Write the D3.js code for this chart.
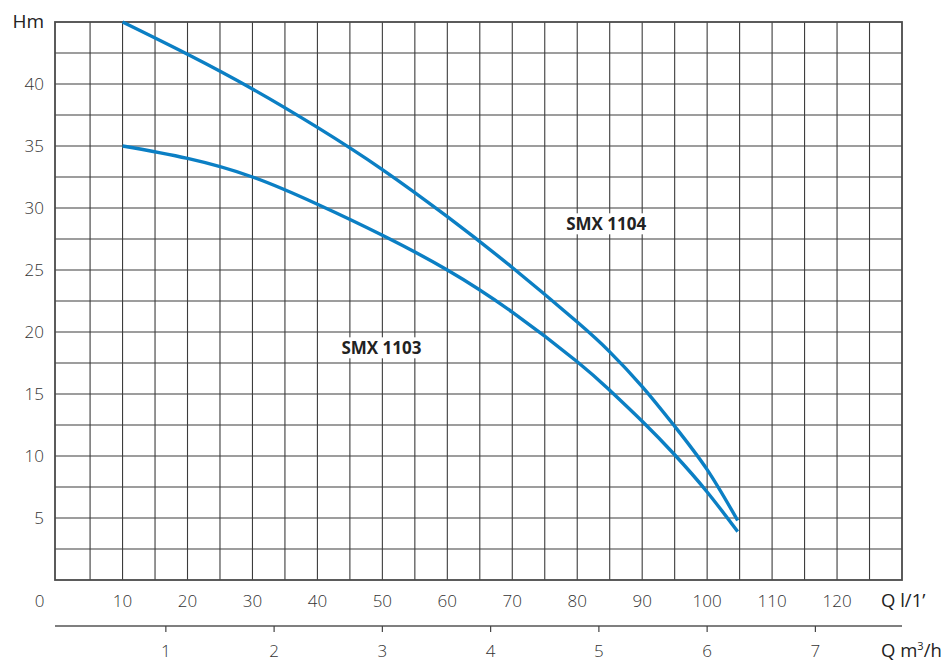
<!DOCTYPE html>
<html><head><meta charset="utf-8">
<script src="https://cdn.jsdelivr.net/npm/d3@7/dist/d3.min.js"></script>
<style>body{margin:0;background:#fff} svg{display:block}</style>
</head><body><svg id="c" width="949" height="662"></svg>
<script>
// ---- data ----
const flowTicks = [0,10,20,30,40,50,60,70,80,90,100,110,120];   // Q l/1'
const m3hTicks = [1,2,3,4,5,6,7];                                 // Q m3/h
const headTicks = [5,10,15,20,25,30,35,40];                       // Hm
const seriesNames = ["SMX 1104","SMX 1103"];
const smx1104Q = [10,20,30,40,50,60,70,80,85,90,95,100,104.7];
const smx1104H = [45,42.4,39.6,36.5,33.1,29.3,25.2,20.8,18.4,15.6,12.4,8.9,4.8];
const smx1103Q = [10,20,30,40,50,60,70,80,85,90,95,100,104.7];
const smx1103H = [35,34.0,32.5,30.3,27.8,25.0,21.6,17.6,15.3,12.8,10.1,7.1,3.9];
const labelAt = [[78.3,28.2],[43.7,18.2]]; // label anchors in data units (Q, H)

// ---- layout ----
const svg=d3.select("#c");
const x=d3.scaleLinear().domain([-0.4,130]).range([55,902]);
const y=d3.scaleLinear().domain([0,45]).range([580,22]);
const fontNum="'Open Sans', 'DejaVu Sans', sans-serif";
const gridColor="#3c3c3c";

// grid
const g=svg.append("g");
g.selectAll("line.v").data(d3.range(5,130,5)).join("line")
  .attr("x1",d=>x(d)).attr("x2",d=>x(d)).attr("y1",y(0)).attr("y2",y(45))
  .attr("stroke",gridColor).attr("stroke-width",1.1);
g.selectAll("line.h").data(d3.range(2.5,45,2.5)).join("line")
  .attr("x1",x.range()[0]).attr("x2",x.range()[1]).attr("y1",d=>y(d)).attr("y2",d=>y(d))
  .attr("stroke",gridColor).attr("stroke-width",1.1);
// frame
g.append("rect").attr("x",x.range()[0]).attr("y",y(45))
  .attr("width",x.range()[1]-x.range()[0]).attr("height",y(0)-y(45))
  .attr("fill","none").attr("stroke","#4a4a4a").attr("stroke-width",1.8);

// curves
const line=d3.line().x(d=>x(d[0])).y(d=>y(d[1])).curve(d3.curveNatural);
const curves=[d3.zip(smx1104Q,smx1104H), d3.zip(smx1103Q,smx1103H)];
svg.append("g").selectAll("path").data(curves).join("path")
  .attr("d",line).attr("fill","none").attr("stroke","#0b7fc4")
  .attr("stroke-width",3.4).attr("stroke-linecap","butt");

// series labels with white background
seriesNames.forEach((name,i)=>{
  const lg=svg.append("g");
  const t=lg.append("text").attr("x",x(labelAt[i][0])).attr("y",y(labelAt[i][1]))
    .attr("font-family",fontNum).attr("font-weight",700).attr("font-size",17)
    .attr("fill","#222").text(name);
  const b=t.node().getBBox();
  lg.insert("rect","text").attr("x",b.x-4).attr("y",b.y+1).attr("width",b.width+8)
    .attr("height",b.height-2).attr("fill","#fff");
});

// y axis labels
svg.append("g").selectAll("text").data(headTicks).join("text")
  .attr("x",44).attr("y",d=>y(d)).attr("dy","0.36em").attr("text-anchor","end")
  .attr("font-family",fontNum).attr("font-weight",300).attr("font-size",17).attr("fill","#333")
  .text(d=>d);
svg.append("text").attr("x",44).attr("y",28).attr("text-anchor","end")
  .attr("font-family",fontNum).attr("font-weight",400).attr("font-size",19).attr("fill","#222").text("Hm");

// x axis (l/min)
svg.append("g").selectAll("text").data(flowTicks).join("text")
  .attr("x",d=>d===0?x(0)-18:x(d)).attr("y",607).attr("text-anchor","middle")
  .attr("font-family",fontNum).attr("font-weight",300).attr("font-size",17).attr("fill","#333")
  .text(d=>d);
svg.append("text").attr("x",881).attr("y",607)
  .attr("font-family",fontNum).attr("font-weight",400).attr("font-size",18.5).attr("fill","#222").text("Q l/1\u2019");

// second axis (m3/h)
const xm=d3.scaleLinear().domain([0,130*60/1000]).range([x(0),x(130)]);
const ax=svg.append("g").attr("transform","translate(0,626)");
ax.append("line").attr("x1",x.range()[0]).attr("x2",x.range()[1]).attr("stroke","#555").attr("stroke-width",1.4);
ax.selectAll("line.t").data(m3hTicks).join("line").attr("class","t")
  .attr("x1",d=>xm(d)).attr("x2",d=>xm(d)).attr("y1",0).attr("y2",6)
  .attr("stroke","#444").attr("stroke-width",1.2);
ax.selectAll("text").data(m3hTicks).join("text")
  .attr("x",d=>xm(d)).attr("y",31).attr("text-anchor","middle")
  .attr("font-family",fontNum).attr("font-weight",300).attr("font-size",17).attr("fill","#333")
  .text(d=>d);
const qm=svg.append("text").attr("x",881).attr("y",657)
  .attr("font-family",fontNum).attr("font-weight",400).attr("font-size",18.5).attr("fill","#222");
qm.append("tspan").text("Q m");
qm.append("tspan").attr("font-size",11).attr("dy",-7).text("3");
qm.append("tspan").attr("dy",7).text("/h");
</script></body></html>
